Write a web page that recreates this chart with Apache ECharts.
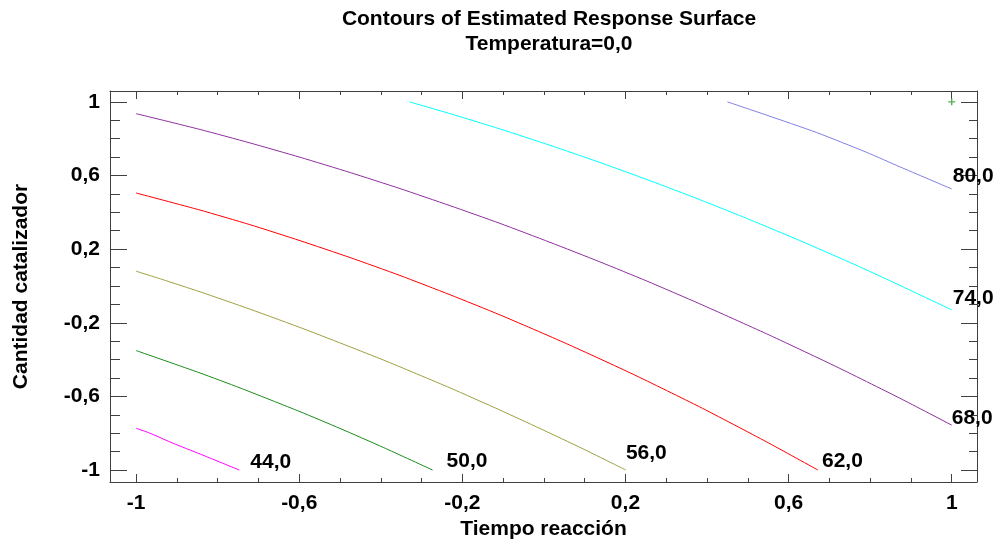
<!DOCTYPE html>
<html><head><meta charset="utf-8">
<script src="https://cdn.jsdelivr.net/npm/echarts@6/dist/echarts.min.js"></script>
<style>html,body{margin:0;padding:0;background:#fff}#c{width:997px;height:539px}</style>
</head><body><div id="c"></div>
<script>
// ---- data ----
const titleText = 'Contours of Estimated Response Surface';
const subTitleText = 'Temperatura=0,0';
const xName = 'Tiempo reacción';
const yName = 'Cantidad catalizador';
const xMajorTicks = [-1, -0.6, -0.2, 0.2, 0.6, 1];
const yMajorTicks = [-1, -0.6, -0.2, 0.2, 0.6, 1];
const minorTicks = [-1, -0.9, -0.8, -0.7, -0.6, -0.5, -0.4, -0.3, -0.2, -0.1, 0, 0.1, 0.2, 0.3, 0.4, 0.5, 0.6, 0.7, 0.8, 0.9, 1];
const levels = [44, 50, 56, 62, 68, 74, 80];
const c44 = [[-1, -0.773], [-0.966, -0.800], [-0.909, -0.855], [-0.843, -0.913], [-0.747, -1.0]];
const c50 = [[-1, -0.351], [-0.843, -0.473], [-0.745, -0.554], [-0.598, -0.683], [-0.5, -0.774], [-0.394, -0.877], [-0.273, -1.0]];
const c56 = [[-1, 0.080], [-0.937, 0.036], [-0.843, -0.032], [-0.721, -0.126], [-0.582, -0.239], [-0.394, -0.402], [-0.230, -0.554], [-0.108, -0.674], [-0.010, -0.774], [0.096, -0.885], [0.201, -1.0]];
const c62 = [[-1, 0.505], [-0.843, 0.412], [-0.721, 0.333], [-0.598, 0.246], [-0.475, 0.154], [-0.353, 0.057], [-0.230, -0.048], [-0.108, -0.157], [0.056, -0.314], [0.219, -0.480], [0.382, -0.657], [0.546, -0.847], [0.672, -1.0]];
const c68 = [[-1, 0.936], [-0.843, 0.850], [-0.721, 0.777], [-0.598, 0.699], [-0.475, 0.616], [-0.353, 0.529], [-0.230, 0.436], [-0.108, 0.340], [0.015, 0.237], [0.137, 0.131], [0.252, 0.027], [0.382, -0.097], [0.546, -0.260], [0.709, -0.430], [0.873, -0.610], [1.0, -0.756]];
const c74 = [[-0.330, 1.0], [-0.230, 0.936], [-0.108, 0.853], [0.015, 0.764], [0.137, 0.671], [0.260, 0.572], [0.382, 0.469], [0.505, 0.360], [0.627, 0.247], [0.750, 0.128], [0.848, 0.029], [1.0, -0.130]];
const c80 = [[0.450, 1.0], [0.546, 0.928], [0.668, 0.834], [0.791, 0.726], [0.873, 0.647], [1.0, 0.527]];
const contours = [c44, c50, c56, c62, c68, c74, c80];
const markerPoint = [[1, 1]];

// ---- style ----
const colors = ['#ff00ff', '#1a8c1a', '#a0a040', '#ff0000', '#9030a0', '#00ffff', '#8080e8'];
const labelOffsets = [[3, -8], [6, -9], [-8, -17], [-4, -9], [-8, -7], [-7, -12], [-7, -13]];
const FONT = "'Liberation Sans', Arial, sans-serif";
const axisColor = '#404040';
const X_MIN = -1.064, X_MAX = 1.062, Y_MIN = -1.065, Y_MAX = 1.059;
const fmt = v => String(v).replace('.', ',');
const txt = { fontFamily: FONT, fontWeight: 'bold', fontSize: 21, color: '#000' };

function xAx(pos, ticks, len, showLine, label) {
  return {
    type: 'value', min: X_MIN, max: X_MAX, position: pos,
    axisLine: { show: showLine, onZero: false, lineStyle: { color: axisColor, width: 1 } },
    axisTick: { show: true, inside: true, length: len, customValues: ticks, lineStyle: { color: axisColor, width: 1 } },
    axisLabel: label ? Object.assign({ show: true, customValues: ticks, formatter: fmt, margin: 11 }, txt) : { show: false },
    splitLine: { show: false }
  };
}
function yAx(pos, ticks, len, showLine, label) {
  return {
    type: 'value', min: Y_MIN, max: Y_MAX, position: pos,
    axisLine: { show: showLine, onZero: false, lineStyle: { color: axisColor, width: 1 } },
    axisTick: { show: true, inside: true, length: len, customValues: ticks, lineStyle: { color: axisColor, width: 1 } },
    axisLabel: label ? Object.assign({ show: true, customValues: ticks, formatter: fmt, margin: 10 }, txt) : { show: false },
    splitLine: { show: false }
  };
}
const xAxes = [
  xAx('bottom', xMajorTicks, 8, true, true),
  xAx('bottom', minorTicks, 4, false, false),
  xAx('top', xMajorTicks, 8, true, false),
  xAx('top', minorTicks, 4, false, false)
];
Object.assign(xAxes[0], { name: xName, nameLocation: 'middle', nameGap: 32, nameTextStyle: Object.assign({}, txt) });
const yAxes = [
  yAx('left', yMajorTicks, 17, true, true),
  yAx('left', minorTicks, 10, false, false),
  yAx('right', yMajorTicks, 16, true, false),
  yAx('right', minorTicks, 8, false, false)
];
Object.assign(yAxes[0], { name: yName, nameLocation: 'middle', nameGap: 78, nameRotate: 90, nameTextStyle: Object.assign({}, txt) });

const series = contours.map((d, i) => ({
  type: 'line', data: d, xAxisIndex: 0, yAxisIndex: 0,
  showSymbol: false, symbol: 'none', smooth: 0.2, silent: true,
  lineStyle: { color: colors[i], width: 1 },
  endLabel: Object.assign({ show: true, formatter: () => fmt(levels[i].toFixed(1)), offset: labelOffsets[i] }, txt)
}));
series.push({
  type: 'scatter', data: markerPoint, xAxisIndex: 0, yAxisIndex: 0,
  symbol: 'path://M4,0L6,0L6,4L10,4L10,6L6,6L6,10L4,10L4,6L0,6L0,4L4,4Z', symbolSize: 7,
  itemStyle: { color: '#2a9a2a' }, silent: true
});

const chart = echarts.init(document.getElementById('c'), null, { renderer: 'canvas' });
chart.setOption({
  animation: false,
  backgroundColor: '#fff',
  title: [
    { text: titleText, left: 544, textAlign: 'center', top: 4, textStyle: Object.assign({}, txt) },
    { text: subTitleText, left: 544, textAlign: 'center', top: 29, textStyle: Object.assign({}, txt) }
  ],
  grid: { left: 110, right: 20, top: 91, bottom: 57, containLabel: false, outerBoundsMode: 'none' },
  xAxis: xAxes,
  yAxis: yAxes,
  series: series
});
</script></body></html>
